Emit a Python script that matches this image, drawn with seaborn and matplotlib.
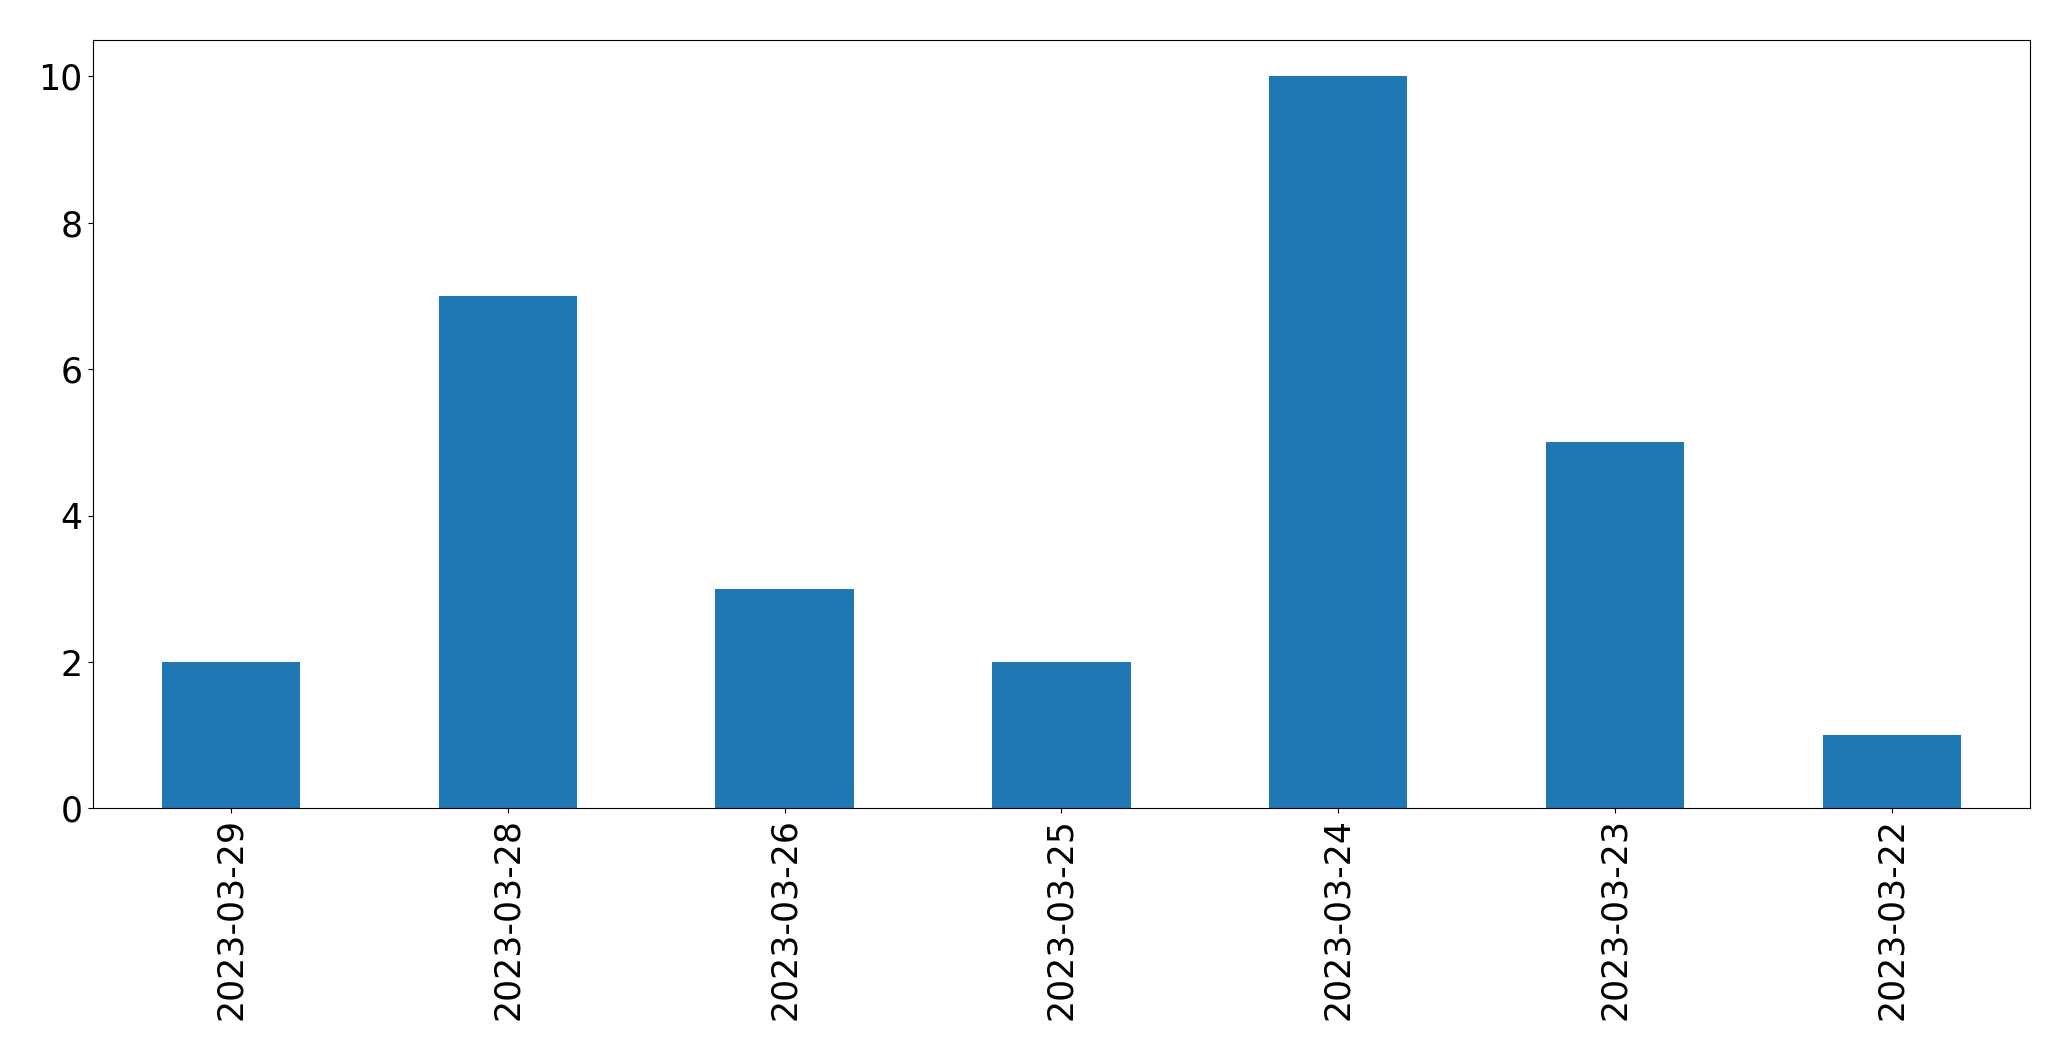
import pandas as pd
import matplotlib
matplotlib.use("Agg")
import matplotlib.pyplot as plt
import seaborn as sns

dates = ["2023-03-29", "2023-03-28", "2023-03-26", "2023-03-25",
         "2023-03-24", "2023-03-23", "2023-03-22"]
counts = [2, 7, 3, 2, 10, 5, 1]

df = pd.DataFrame({"date": dates, "count": counts})

fig, ax = plt.subplots(figsize=(20.71, 10.61), dpi=100)
fig.subplots_adjust(left=0.0447, right=0.9803, top=0.9627, bottom=0.238)

sns.barplot(data=df, x="date", y="count", color="#1f77b4",
            saturation=1, width=0.5, ax=ax, order=dates)

ax.set_xlim(-0.5, len(dates) - 0.5)
ax.set_ylim(0, 10.5)
ax.set_xlabel("")
ax.set_ylabel("")
ax.tick_params(axis="both", labelsize=25)
ax.tick_params(axis="x", labelrotation=90)

fig.savefig("out.png", dpi=100)
plt.close(fig)
